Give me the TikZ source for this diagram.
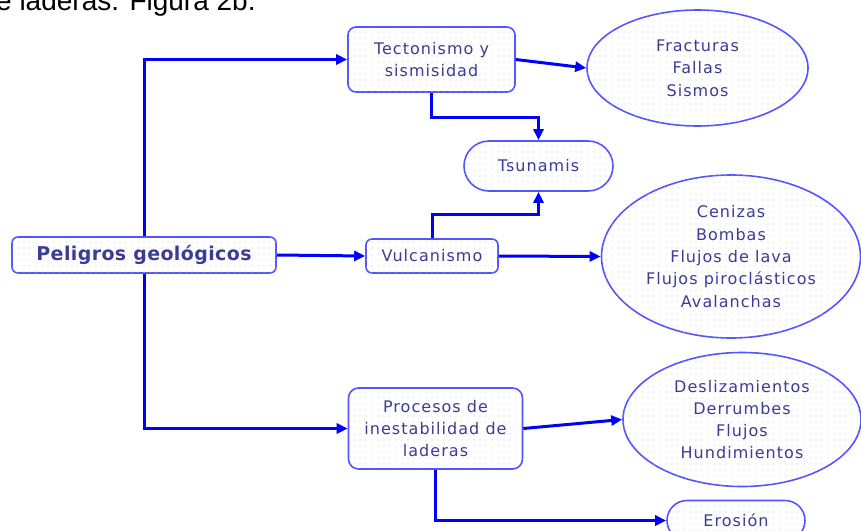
\documentclass[tikz,border=0pt]{standalone}
\usepackage{fontspec}
\setmainfont{Liberation Sans}
\usetikzlibrary{arrows.meta, shapes.geometric, patterns}
\newfontfamily\mapfont[LetterSpace=6.5]{DejaVu Sans}
\newfontfamily\headfont[LetterSpace=2]{DejaVu Sans}
\definecolor{gpLine}{RGB}{0,0,255}
\definecolor{gpEdge}{RGB}{85,85,255}
\definecolor{gpText}{RGB}{60,60,150}
\definecolor{gpDot}{RGB}{205,205,215}
\pgfdeclarepatternformonly{gpdots}{\pgfqpoint{-1pt}{-1pt}}{\pgfqpoint{1pt}{1pt}}%
  {\pgfqpoint{6pt}{6pt}}{\pgfpathcircle{\pgfqpoint{0pt}{0pt}}{0.55pt}\pgfusepath{fill}}

\begin{document}
\begin{tikzpicture}[x=1pt, y=-1pt,
    box/.style={draw=gpEdge, line width=1.6pt, fill=white,
      postaction={pattern=gpdots, pattern color=gpDot}, text=gpText,
      align=center, inner sep=0pt, font=\mapfont\fontsize{16}{22.3}\selectfont},
    card/.style={box, rectangle, rounded corners=#1},
    card/.default=8pt,
    oval/.style={box, ellipse},
    link/.style={draw=gpLine, line width=3pt, -{Triangle[length=11pt,width=10pt]}}]
  \useasboundingbox (0,0) rectangle (861,530);
  % caption line, cut by the top edge
  \node[anchor=base west, inner sep=0pt, font=\fontsize{28}{30}\selectfont] (cap) at (-4,10)
    {e laderas. Figura 2b.};
  % main topic
  \node[card=6pt, minimum width=264pt, minimum height=36pt,
        font=\headfont\bfseries\fontsize{19}{22}\selectfont] (pel) at (144,255)
    {Peligros geológicos};
  % branches
  \node[card, minimum width=167pt, minimum height=65pt] (tec) at (431.5,59.5)
    {Tectonismo y\\ sismisidad};
  \node[card=25pt, minimum width=149pt, minimum height=50pt] (tsu) at (538.5,166)
    {Tsunamis};
  \node[card=6pt, minimum width=132pt, minimum height=34pt] (vul) at (432,256)
    {Vulcanismo};
  \node[card=10pt, minimum width=174pt, minimum height=81pt] (proc) at (435.5,428.5)
    {Procesos de\\ inestabilidad de\\ laderas};
  \node[card=20pt, minimum width=138pt, minimum height=40pt] (ero) at (736,520.5)
    {Erosión};
  % effects
  \node[oval, minimum width=221pt, minimum height=116pt] (frac) at (697.5,68)
    {Fracturas\\ Fallas\\ Sismos};
  \node[oval, minimum width=259pt, minimum height=163pt] (cen) at (731,256.5)
    {Cenizas\\ Bombas\\ Flujos de lava\\ Flujos piroclásticos\\ Avalanchas};
  \node[oval, minimum width=238pt, minimum height=134pt] (desl) at (742,419.5)
    {Deslizamientos\\ Derrumbes\\ Flujos\\ Hundimientos};
  % connectors
  \draw[link] (pel.north) |- (tec.west);
  \draw[link] (pel.east) -- (vul.west);
  \draw[link] (pel.south) |- (proc.west);
  \draw[link] (tec.east) -- (frac.west);
  \draw[link] (tec.south) -- ++(0,25) -| (tsu.north);
  \draw[link] (vul.north) -- ++(0,-24) -| (tsu.south);
  \draw[link] (vul.east) -- (cen.west);
  \draw[link] (proc.east) -- (desl.west);
  \draw[link] (proc.south) |- (ero.west);
\end{tikzpicture}
\end{document}
